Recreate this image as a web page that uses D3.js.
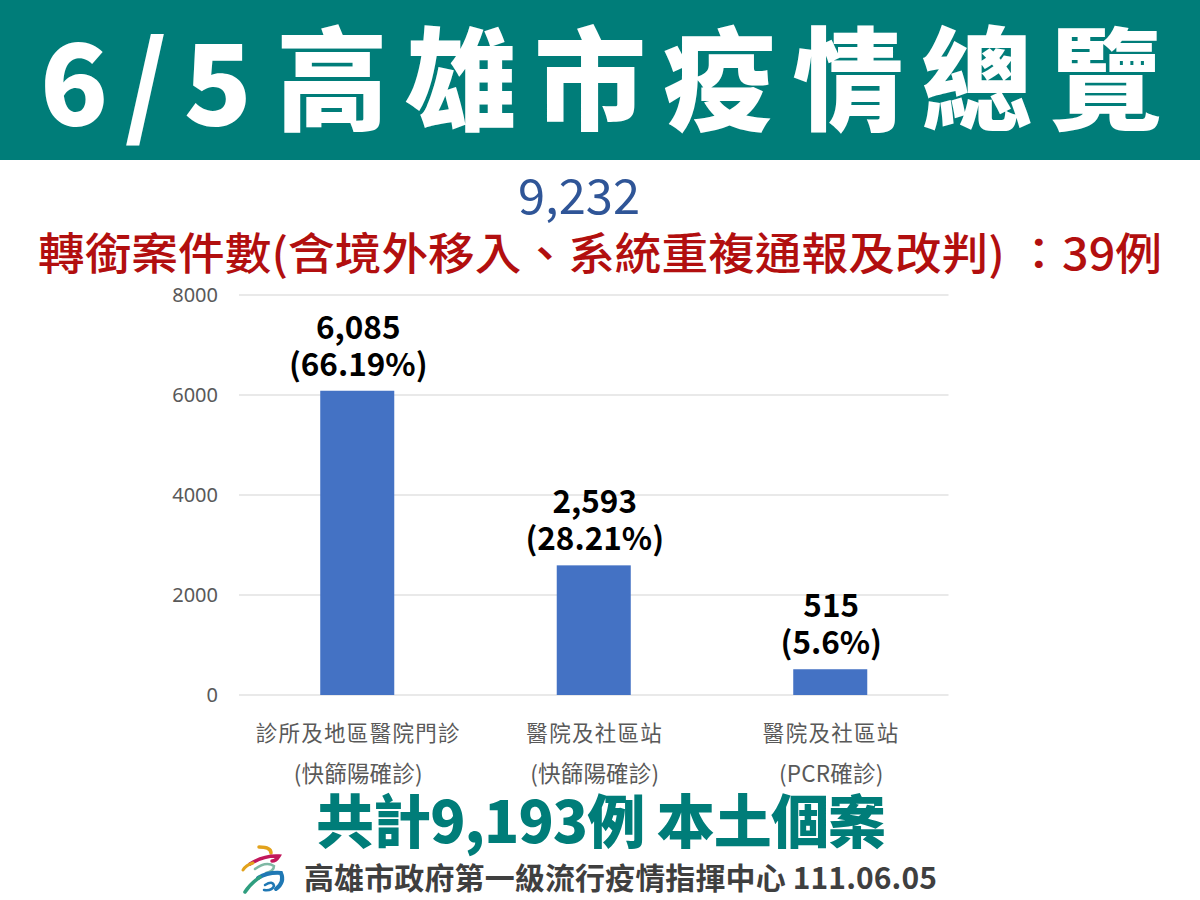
<!DOCTYPE html>
<html>
<head>
<meta charset="utf-8">
<script src="https://d3js.org/d3.v7.min.js"></script>
<style>
  html, body { margin: 0; padding: 0; background: #fff; }
  text { font-family: "Noto Sans CJK TC", "Noto Sans", sans-serif; }
</style>
</head>
<body>
<div id="container"></div>
<script>
/* DATA */
const categoriesTop = ["診所及地區醫院門診", "醫院及社區站", "醫院及社區站"];
const categoriesBottom = ["(快篩陽確診)", "(快篩陽確診)", "(PCR確診)"];
const categoryKeys = ["clinic", "hospitalRapid", "hospitalPcr"];
const caseCounts = [6085, 2593, 515];
const countLabels = ["6,085", "2,593", "515"];
const shareLabels = ["(66.19%)", "(28.21%)", "(5.6%)"];
const yTicks = [0, 2000, 4000, 6000, 8000];

/* CONSTANTS AND GLOBALS */
const width = 1200;
const height = 900;
const teal = "#007d79";

const svg = d3.select("#container")
  .append("svg")
  .attr("width", width)
  .attr("height", height)
  .style("display", "block");

/* SCALES */
const xScale = d3.scaleBand()
  .domain(categoryKeys)
  .range([239, 948.5])
  .paddingInner(0.687)
  .paddingOuter(0.3435);

const yScale = d3.scaleLinear()
  .domain([0, 8000])
  .range([695, 295]);

// banner
svg.append("rect")
  .attr("width", width)
  .attr("height", 160)
  .attr("fill", teal);

svg.append("text")
  .attr("x", 40).attr("y", 125)
  .attr("textLength", 212).attr("lengthAdjust", "spacing")
  .attr("fill", "#fff").attr("font-size", 112).attr("font-weight", 900)
  .text("6 / 5");

svg.append("text")
  .attr("x", 276).attr("y", 122)
  .attr("textLength", 886).attr("lengthAdjust", "spacing")
  .attr("fill", "#fff").attr("font-size", 112).attr("font-weight", 900)
  .text("高雄市疫情總覽");

// headline numbers
svg.append("text")
  .attr("x", 518).attr("y", 214)
  .attr("fill", "#2f5597").attr("font-size", 48)
  .attr("textLength", 122).attr("lengthAdjust", "spacingAndGlyphs")
  .text("9,232");

svg.append("text")
  .attr("x", 38).attr("y", 270)
  .attr("textLength", 1124).attr("lengthAdjust", "spacingAndGlyphs")
  .attr("fill", "#b20f0f").attr("font-size", 44).attr("font-weight", 500)
  .text("轉銜案件數(含境外移入、系統重複通報及改判)  ：39例");

// gridlines
svg.selectAll("line.grid")
  .data(yTicks)
  .join("line")
  .attr("class", "grid")
  .attr("x1", 239)
  .attr("x2", 948.5)
  .attr("y1", d => yScale(d))
  .attr("y2", d => yScale(d))
  .attr("stroke", "#e2e2e2")
  .attr("stroke-width", 1.5);

// y axis
const yAxis = d3.axisLeft(yScale)
  .tickValues(yTicks)
  .tickFormat(d3.format("d"))
  .tickSize(0)
  .tickPadding(21);

const yAxisG = svg.append("g")
  .attr("transform", "translate(239,0)")
  .call(yAxis);
yAxisG.select(".domain").remove();
yAxisG.selectAll("text")
  .attr("fill", "#595959")
  .style("font-family", "'Noto Sans', sans-serif")
  .style("font-size", "20px");

// bars
svg.selectAll("rect.bar")
  .data(caseCounts)
  .join("rect")
  .attr("class", "bar")
  .attr("x", (d, i) => xScale(categoryKeys[i]))
  .attr("y", d => yScale(d))
  .attr("width", xScale.bandwidth())
  .attr("height", d => yScale(0) - yScale(d))
  .attr("fill", "#4472c4");

// value labels
const barCenter = i => xScale(categoryKeys[i]) + xScale.bandwidth() / 2;

svg.selectAll("text.count")
  .data(countLabels)
  .join("text")
  .attr("class", "count")
  .attr("x", (d, i) => barCenter(i) + 1)
  .attr("y", (d, i) => yScale(caseCounts[i]) - 52)
  .attr("text-anchor", "middle")
  .attr("font-size", 31.5).attr("font-weight", 700)
  .text(d => d);

svg.selectAll("text.share")
  .data(shareLabels)
  .join("text")
  .attr("class", "share")
  .attr("x", (d, i) => barCenter(i) + 1)
  .attr("y", (d, i) => yScale(caseCounts[i]) - 15)
  .attr("text-anchor", "middle")
  .attr("font-size", 31.5).attr("font-weight", 700)
  .text(d => d);

// category labels
svg.selectAll("text.catTop")
  .data(categoriesTop)
  .join("text")
  .attr("class", "catTop")
  .attr("x", (d, i) => barCenter(i) + 1)
  .attr("y", 741)
  .attr("text-anchor", "middle")
  .attr("fill", "#595959")
  .attr("font-size", 21.5)
  .attr("letter-spacing", 1.3)
  .text(d => d);

svg.selectAll("text.catBottom")
  .data(categoriesBottom)
  .join("text")
  .attr("class", "catBottom")
  .attr("x", (d, i) => barCenter(i) + 1)
  .attr("y", 782)
  .attr("text-anchor", "middle")
  .attr("fill", "#595959")
  .attr("font-size", 22.5)
  .attr("letter-spacing", 0.2)
  .text(d => d);

// footer
svg.append("text")
  .attr("x", 316).attr("y", 843)
  .attr("textLength", 570).attr("lengthAdjust", "spacing")
  .attr("fill", teal).attr("font-size", 58).attr("font-weight", 900)
  .text("共計9,193例 本土個案");

svg.append("text")
  .attr("x", 304).attr("y", 889)
  .attr("textLength", 633).attr("lengthAdjust", "spacing")
  .attr("fill", "#3f3f3f").attr("font-size", 30).attr("font-weight", 700)
  .text("高雄市政府第一級流行疫情指揮中心 111.06.05");

// logo swooshes
const logo = svg.append("g").attr("fill", "none").attr("stroke-linecap", "round");
[
  ["M259 847 Q271 847 271 853", "#e2a21c", 3.5],
  ["M250 864 Q264 855 279 856 Q276 861 272 861", "#c2185b", 3.5],
  ["M243 870 Q246 865 253 863", "#e2a21c", 3],
  ["M255 869 Q266 861 274 866 Q274 871 266 873", "#7fb8a4", 2.5],
  ["M258 878 Q268 872 281 873 Q285 882 276 889", "#1f78b4", 4],
  ["M245 892 Q250 884 260 877", "#2f9e7f", 3.5],
  ["M265 885 Q273 880 274 886 Q272 891 264 890", "#1f78b4", 2.5]
].forEach(s => {
  logo.append("path").attr("d", s[0]).attr("stroke", s[1]).attr("stroke-width", s[2]);
});
</script>
</body>
</html>
